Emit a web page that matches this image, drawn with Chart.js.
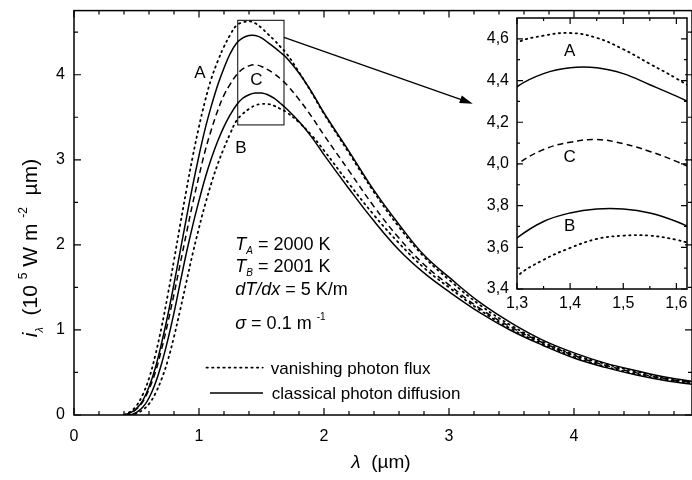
<!DOCTYPE html>
<html>
<head>
<meta charset="utf-8">
<script src="https://cdn.jsdelivr.net/npm/chart.js@4.4.1/dist/chart.umd.min.js"></script>
<style>
body { margin: 0; background: #fff; }
#wrap { position: relative; width: 692px; height: 480px; }
canvas { position: absolute; }
</style>
</head>
<body>
<div id="wrap">
<canvas id="mainChart" width="692" height="480" style="left:0;top:0"></canvas>
<canvas id="insetChart" width="232" height="320" style="left:460px;top:0"></canvas>
</div>
<script>
// SPECTRAL INTENSITY - LINES + ZOOM INSET

const lambda = [0.4, 0.45, 0.5, 0.55, 0.6, 0.65, 0.7, 0.75, 0.8, 0.85, 0.9, 0.95, 1.0, 1.05, 1.1, 1.15, 1.2, 1.25,
    1.3, 1.35, 1.4, 1.45, 1.5, 1.55, 1.6, 1.65, 1.7, 1.8, 1.9, 2.0, 2.2, 2.4, 2.6, 2.8, 3.0, 3.25, 3.5, 3.75,
    4.0, 4.25, 4.5, 4.75, 4.95];

// vanishing photon flux, side A
const aFlux = [0.0, 0.04, 0.11, 0.24, 0.43, 0.70, 1.03, 1.41, 1.82, 2.24, 2.65, 3.04, 3.39, 3.70, 3.96, 4.16, 4.33, 4.47,
    4.58, 4.615, 4.628, 4.605, 4.55, 4.48, 4.41, 4.33, 4.25, 4.03, 3.79, 3.54, 3.08, 2.62, 2.21, 1.86, 1.59, 1.29, 1.05, 0.86,
    0.71, 0.60, 0.51, 0.43, 0.385];
// classical photon diffusion, side A
const aDiff = [0.0, 0.025, 0.075, 0.17, 0.33, 0.55, 0.84, 1.17, 1.54, 1.93, 2.32, 2.70, 3.05, 3.37, 3.64, 3.88, 4.08, 4.25,
    4.37, 4.433, 4.461, 4.461, 4.433, 4.38, 4.325, 4.265, 4.20, 4.02, 3.80, 3.55, 3.10, 2.64, 2.24, 1.88, 1.62, 1.32, 1.08, 0.88,
    0.73, 0.61, 0.52, 0.44, 0.395];
// middle curve C
const cMid = [0.0, 0.02, 0.07, 0.155, 0.30, 0.50, 0.77, 1.08, 1.42, 1.78, 2.14, 2.49, 2.81, 3.11, 3.36, 3.58, 3.76, 3.89,
    3.997, 4.069, 4.104, 4.117, 4.097, 4.06, 4.012, 3.955, 3.885, 3.71, 3.51, 3.29, 2.87, 2.45, 2.08, 1.77, 1.53, 1.25, 1.03, 0.85,
    0.70, 0.585, 0.495, 0.42, 0.38];
// classical photon diffusion, side B
const bDiff = [0.0, 0.0, 0.03, 0.09, 0.20, 0.37, 0.60, 0.88, 1.20, 1.56, 1.91, 2.23, 2.52, 2.79, 3.02, 3.22, 3.39, 3.53,
    3.645, 3.724, 3.765, 3.784, 3.784, 3.765, 3.724, 3.665, 3.60, 3.45, 3.27, 3.06, 2.66, 2.28, 1.94, 1.67, 1.45, 1.20, 0.99, 0.82,
    0.67, 0.56, 0.47, 0.40, 0.36];
// vanishing photon flux, side B
const bFlux = [0.0, 0.0, 0.02, 0.06, 0.13, 0.25, 0.42, 0.64, 0.92, 1.24, 1.57, 1.90, 2.20, 2.48, 2.73, 2.95, 3.14, 3.31,
    3.46, 3.54, 3.597, 3.64, 3.656, 3.656, 3.636, 3.60, 3.56, 3.44, 3.29, 3.11, 2.72, 2.35, 2.02, 1.73, 1.50, 1.23, 1.01, 0.835,
    0.685, 0.57, 0.48, 0.41, 0.37];

const xTicks = [0, 1, 2, 3, 4];
const yTicks = [0, 1, 2, 3, 4];
const insetXTicks = [1.3, 1.4, 1.5, 1.6];
const insetYTicks = [3.4, 3.6, 3.8, 4.0, 4.2, 4.4, 4.6];

const FONT = '"Liberation Sans", Arial, Helvetica, sans-serif';
const DOTS = [1.4, 4.2];

const pts = arr => lambda.map((x, i) => ({ x: x, y: arr[i] }));

const lineSets = () => [
    { data: pts(aFlux), borderColor: '#000', borderWidth: 1.8, borderDash: DOTS, borderCapStyle: 'round' },
    { data: pts(aDiff), borderColor: '#000', borderWidth: 1.5 },
    { data: pts(cMid), borderColor: '#000', borderWidth: 1.5, borderDash: [6, 4] },
    { data: pts(bDiff), borderColor: '#000', borderWidth: 1.5 },
    { data: pts(bFlux), borderColor: '#000', borderWidth: 1.8, borderDash: DOTS, borderCapStyle: 'round' }
];

function drawRuns(ctx, parts, x, y, align) {
    let w = 0;
    parts.forEach(p => {
        ctx.font = (p.it ? 'italic ' : '') + p.s + 'px ' + FONT;
        p.w = ctx.measureText(p.t).width;
        w += p.w;
    });
    let cx = align === 'center' ? x - w / 2 : x;
    ctx.textAlign = 'left';
    ctx.textBaseline = 'alphabetic';
    parts.forEach(p => {
        ctx.font = (p.it ? 'italic ' : '') + p.s + 'px ' + FONT;
        ctx.fillText(p.t, cx, y + (p.dy || 0));
        cx += p.w;
    });
}

function drawFrame(chart, xMaj, xMin, yMaj, yMin, big, small) {
    const { ctx, chartArea: a, scales: { x, y } } = chart;
    ctx.save();
    ctx.strokeStyle = '#000';
    ctx.lineWidth = 1.5;
    ctx.strokeRect(a.left, a.top, a.right - a.left, a.bottom - a.top);
    ctx.lineWidth = 1.2;
    ctx.beginPath();
    const xt = (v, len) => {
        const px = x.getPixelForValue(v);
        ctx.moveTo(px, a.bottom); ctx.lineTo(px, a.bottom - len);
        ctx.moveTo(px, a.top); ctx.lineTo(px, a.top + len);
    };
    const yt = (v, len) => {
        const py = y.getPixelForValue(v);
        ctx.moveTo(a.left, py); ctx.lineTo(a.left + len, py);
        ctx.moveTo(a.right, py); ctx.lineTo(a.right - len, py);
    };
    xMaj.forEach(v => xt(v, big));
    xMin.forEach(v => xt(v, small));
    yMaj.forEach(v => yt(v, big));
    yMin.forEach(v => yt(v, small));
    ctx.stroke();
    ctx.restore();
}

const mainDecor = {
    id: 'mainDecor',
    afterDraw(chart) {
        const { ctx, scales: { x, y } } = chart;
        const xMinor = [];
        for (let v = 0.2; v < 4.95; v += 0.2) { if (Math.abs(v - Math.round(v)) > 0.01) xMinor.push(v); }
        drawFrame(chart, xTicks, xMinor, yTicks, [0.5, 1.5, 2.5, 3.5, 4.5], 7, 4);

        ctx.save();
        ctx.fillStyle = '#000';
        ctx.strokeStyle = '#000';

        // zoom box
        ctx.lineWidth = 1;
        const bx1 = x.getPixelForValue(1.31), bx2 = x.getPixelForValue(1.68);
        const by1 = y.getPixelForValue(4.64), by2 = y.getPixelForValue(3.41);
        ctx.strokeRect(bx1, by1, bx2 - bx1, by2 - by1);

        // arrow to inset
        const ax1 = x.getPixelForValue(1.68), ay1 = y.getPixelForValue(4.44);
        const ax2 = x.getPixelForValue(3.19), ay2 = y.getPixelForValue(3.66);
        const ang = Math.atan2(ay2 - ay1, ax2 - ax1);
        ctx.lineWidth = 1.3;
        ctx.beginPath();
        ctx.moveTo(ax1, ay1);
        ctx.lineTo(ax2 - 10 * Math.cos(ang), ay2 - 10 * Math.sin(ang));
        ctx.stroke();
        ctx.beginPath();
        ctx.moveTo(ax2, ay2);
        ctx.lineTo(ax2 - 13 * Math.cos(ang) + 4 * Math.sin(ang), ay2 - 13 * Math.sin(ang) - 4 * Math.cos(ang));
        ctx.lineTo(ax2 - 13 * Math.cos(ang) - 4 * Math.sin(ang), ay2 - 13 * Math.sin(ang) + 4 * Math.cos(ang));
        ctx.closePath();
        ctx.fill();

        // curve letters
        ctx.font = '17px ' + FONT;
        ctx.textAlign = 'center';
        ctx.textBaseline = 'middle';
        ctx.fillText('A', x.getPixelForValue(1.008), y.getPixelForValue(4.02));
        ctx.fillText('C', x.getPixelForValue(1.46), y.getPixelForValue(3.93));
        ctx.fillText('B', x.getPixelForValue(1.336), y.getPixelForValue(3.13));

        // parameters
        const tx = x.getPixelForValue(1.29);
        drawRuns(ctx, [{ t: 'T', it: true, s: 18 }, { t: 'A', it: true, s: 10, dy: 4 }, { t: ' = 2000 K', s: 18 }], tx, y.getPixelForValue(1.936));
        drawRuns(ctx, [{ t: 'T', it: true, s: 18 }, { t: 'B', it: true, s: 10, dy: 4 }, { t: ' = 2001 K', s: 18 }], tx, y.getPixelForValue(1.681));
        drawRuns(ctx, [{ t: 'dT/dx', it: true, s: 18 }, { t: ' = 5 K/m', s: 18 }], tx, y.getPixelForValue(1.414));
        drawRuns(ctx, [{ t: 'σ', it: true, s: 18 }, { t: ' = 0.1 m ', s: 18 }, { t: '-1', s: 10, dy: -9 }], tx, y.getPixelForValue(1.009));

        // legend
        ctx.lineWidth = 1.8;
        ctx.lineCap = 'round';
        ctx.setLineDash(DOTS);
        ctx.beginPath();
        ctx.moveTo(x.getPixelForValue(1.06), y.getPixelForValue(0.557));
        ctx.lineTo(x.getPixelForValue(1.51), y.getPixelForValue(0.557));
        ctx.stroke();
        ctx.setLineDash([]);
        ctx.lineCap = 'butt';
        ctx.lineWidth = 1.5;
        ctx.beginPath();
        ctx.moveTo(x.getPixelForValue(1.088), y.getPixelForValue(0.26));
        ctx.lineTo(x.getPixelForValue(1.512), y.getPixelForValue(0.26));
        ctx.stroke();
        drawRuns(ctx, [{ t: 'vanishing photon flux', s: 17 }], x.getPixelForValue(1.574), y.getPixelForValue(0.557) + 6);
        drawRuns(ctx, [{ t: 'classical photon diffusion', s: 17 }], x.getPixelForValue(1.582), y.getPixelForValue(0.26) + 6);

        // axis titles
        drawRuns(ctx, [{ t: 'λ', it: true, s: 19 }, { t: '  (µm)', s: 19 }], 381, 468, 'center');
        ctx.translate(37, 248);
        ctx.rotate(-Math.PI / 2);
        drawRuns(ctx, [{ t: 'i', it: true, s: 21 }, { t: 'λ', it: true, s: 11, dy: 6 }, { t: '  (10 ', s: 21 },
            { t: '5', s: 12, dy: -10 }, { t: ' W m ', s: 21 }, { t: '-2', s: 12, dy: -10 }, { t: '  µm)', s: 21 }], 0, 0, 'center');
        ctx.restore();
    }
};

const insetDecor = {
    id: 'insetDecor',
    afterDraw(chart) {
        const { ctx, scales: { x, y } } = chart;
        drawFrame(chart, insetXTicks, [1.35, 1.45, 1.55], insetYTicks, [3.5, 3.7, 3.9, 4.1, 4.3, 4.5], 6, 3);
        ctx.save();
        ctx.fillStyle = '#000';
        ctx.font = '17px ' + FONT;
        ctx.textAlign = 'center';
        ctx.textBaseline = 'middle';
        ctx.fillText('A', x.getPixelForValue(1.399), y.getPixelForValue(4.54));
        ctx.fillText('C', x.getPixelForValue(1.399), y.getPixelForValue(4.03));
        ctx.fillText('B', x.getPixelForValue(1.399), y.getPixelForValue(3.70));
        ctx.restore();
    }
};

const tickFont = { family: FONT, size: 16 };

new Chart(document.getElementById('mainChart'), {
    type: 'line',
    data: { datasets: lineSets() },
    options: {
        responsive: false,
        animation: false,
        devicePixelRatio: 1,
        layout: { padding: { top: 5, right: 0, left: 0, bottom: 0 } },
        elements: { point: { radius: 0 }, line: { tension: 0.4, fill: false } },
        plugins: { legend: { display: false }, tooltip: { enabled: false } },
        scales: {
            x: {
                type: 'linear', min: 0, max: 4.944,
                afterBuildTicks: s => { s.ticks = xTicks.map(v => ({ value: v })); },
                afterFit: s => { s.height = 65; },
                grid: { display: false }, border: { display: false },
                ticks: { color: '#000', font: tickFont, padding: 4, maxRotation: 0 }
            },
            y: {
                type: 'linear', min: 0, max: 4.754,
                afterBuildTicks: s => { s.ticks = yTicks.map(v => ({ value: v })); },
                afterFit: s => { s.width = 74; },
                grid: { display: false }, border: { display: false },
                ticks: { color: '#000', font: tickFont, padding: 1 }
            }
        }
    },
    plugins: [mainDecor]
});

new Chart(document.getElementById('insetChart'), {
    type: 'line',
    data: { datasets: lineSets() },
    options: {
        responsive: false,
        animation: false,
        devicePixelRatio: 1,
        layout: { padding: { top: 18, right: 5, left: 0, bottom: 0 } },
        elements: { point: { radius: 0 }, line: { tension: 0.4, fill: false } },
        plugins: { legend: { display: false }, tooltip: { enabled: false } },
        scales: {
            x: {
                type: 'linear', min: 1.3, max: 1.62,
                afterBuildTicks: s => { s.ticks = insetXTicks.map(v => ({ value: v })); },
                afterFit: s => { s.height = 31; },
                grid: { display: false }, border: { display: false },
                ticks: { color: '#000', font: tickFont, padding: -3, maxRotation: 0,
                    callback: v => v.toFixed(1).replace('.', ',') }
            },
            y: {
                type: 'linear', min: 3.4, max: 4.7,
                afterBuildTicks: s => { s.ticks = insetYTicks.map(v => ({ value: v })); },
                afterFit: s => { s.width = 57; },
                grid: { display: false }, border: { display: false },
                ticks: { color: '#000', font: tickFont, padding: 0,
                    callback: v => v.toFixed(1).replace('.', ',') }
            }
        }
    },
    plugins: [insetDecor]
});
</script>
</body>
</html>
